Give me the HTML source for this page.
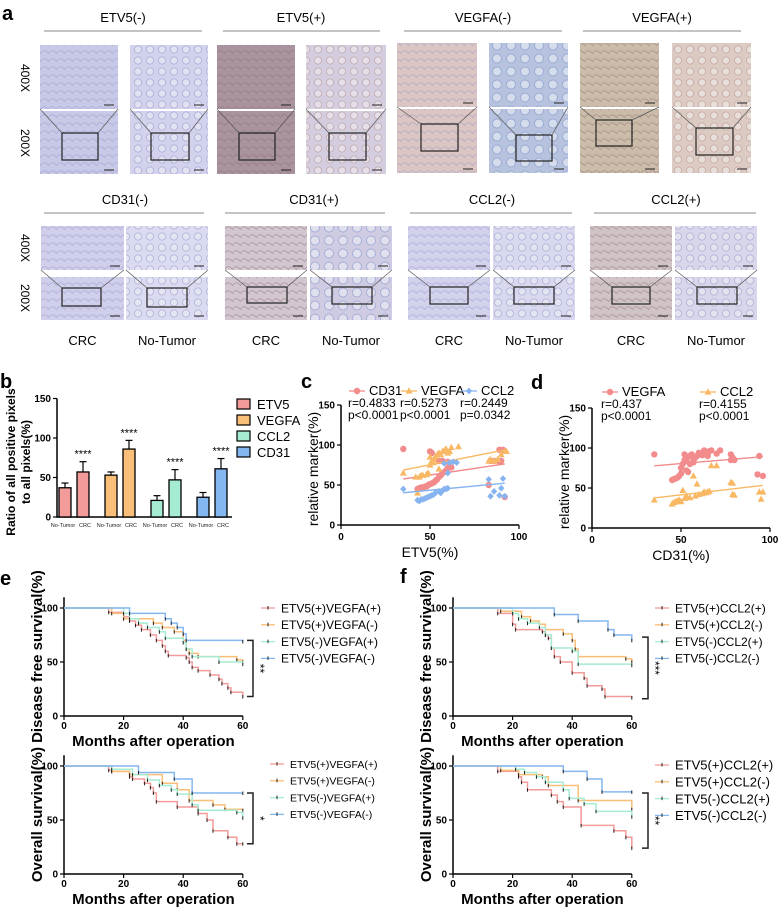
<!DOCTYPE html>
<html><head><meta charset="utf-8"><style>
html,body{margin:0;padding:0;background:#fff;}
svg{display:block;font-family:"Liberation Sans",Arial,sans-serif;}
</style></head><body>
<svg id="fig" width="778" height="909" viewBox="0 0 778 909" xmlns="http://www.w3.org/2000/svg">
<defs>
<pattern id="glands" width="12" height="11" patternUnits="userSpaceOnUse"><circle cx="6" cy="5.5" r="3.6" fill="#eef0f6" stroke="#8f90c6" stroke-width="0.8"/></pattern>
<pattern id="glandsB" width="14" height="13" patternUnits="userSpaceOnUse"><circle cx="7" cy="6.5" r="4.5" fill="#eef2f7" stroke="#7e95c8" stroke-width="0.9"/></pattern>
<pattern id="glandsR" width="12" height="11" patternUnits="userSpaceOnUse"><circle cx="6" cy="5.5" r="3.6" fill="#f1eeee" stroke="#b58f8a" stroke-width="0.8"/></pattern>
<pattern id="tissue" width="8" height="8" patternUnits="userSpaceOnUse"><path d="M0 6 Q4 0 8 5" fill="none" stroke="#8d8fc8" stroke-width="0.7"/></pattern>
<pattern id="tissueBr" width="8" height="8" patternUnits="userSpaceOnUse"><path d="M0 6 Q4 0 8 5" fill="none" stroke="#8a6a70" stroke-width="0.8"/></pattern>
</defs>
<g id="panelA"></g>
<g id="panelB"></g>
<g id="panelC"></g>
<g id="panelD"></g>
<g id="panelE"></g>
<g id="panelF"></g>
</svg>
<script>
// ---------- Panel b data ----------
const barGroups = ["ETV5","VEGFA","CCL2","CD31"];
const barNoTumor = [37, 53, 21, 25];
const barCRC = [57, 86, 47, 61];
const errNoTumor = [6, 4, 6, 6];
const errCRC = [13, 11, 13, 13];
const barTicks = [0, 50, 100, 150];

// ---------- Panel c data ----------
const cCD31X = [35,43,44,45,46,47,48,49,50,51,52,53,54,55,56,57,58,59,60,61,62,50,51,55,57,60,83,84,86,89,90,91,89,92];
const cCD31Y = [95,45,46,47,46,48,48,50,51,52,53,55,57,60,62,65,66,68,71,72,72,92,90,80,80,79,50,80,80,79,80,94,94,35];
const cVEGFAX = [35,43,42,44,45,46,48,49,50,51,52,53,54,55,56,57,58,59,60,61,62,66,50,52,55,83,84,86,88,90,92,93];
const cVEGFAY = [65,40,60,60,62,62,63,65,75,80,82,85,88,90,88,92,93,95,90,92,97,98,85,78,70,80,82,80,82,88,92,92];
const cCCL2X = [35,43,44,45,46,47,48,49,50,51,52,53,55,56,57,58,59,60,61,63,65,58,60,83,84,86,89,90,91,92];
const cCCL2Y = [45,31,30,32,32,33,34,35,36,37,38,40,42,40,43,45,45,46,78,79,78,77,65,57,36,42,37,46,58,36];
const scatterTicks = [0, 50, 100, 150];
const scatterXTicks = [0, 50, 100];

// ---------- Panel d data ----------
const dVEGFAX = [35,45,46,47,48,49,50,50,51,52,52,53,54,55,56,57,58,59,60,62,63,64,65,66,67,72,70,78,79,80,78,93,94,96,53,55,57];
const dVEGFAY = [92,60,61,62,63,65,68,75,80,85,92,72,70,90,92,85,88,90,94,91,97,95,90,96,97,97,93,92,88,85,85,67,90,65,85,80,82];
const dCCL2X = [35,45,46,47,48,49,50,51,52,53,55,57,58,60,62,63,64,65,66,67,70,78,79,79,80,94,95,96,59];
const dCCL2Y = [35,30,32,33,34,35,33,47,37,40,38,65,40,42,43,45,44,45,46,78,78,57,56,42,41,45,36,45,55];

// ---------- Panel e/f survival data (step times, survival %) ----------
const kmTicksX = [0, 20, 40, 60];
const kmTicksY = [0, 50, 100];
const eDfsRedT = [15,20,22,24,26,29,31,33,34,35,41,42,43,45,49,52,53,55,56,60];
const eDfsRedS = [96,92,88,84,80,75,70,65,60,56,54,50,45,42,38,34,30,26,22,18];
const eDfsOrT = [16,20,30,33,37,40,41,42,45,58,60];
const eDfsOrS = [95,90,86,82,78,70,62,58,55,52,50];
const eDfsGrT = [20,22,25,28,32,34,40,41,43,52,60];
const eDfsGrS = [95,90,86,82,78,72,68,62,55,50,48];
const eDfsBlT = [22,34,36,38,40,41,60];
const eDfsBlS = [95,90,86,82,76,70,69];

const fDfsRedT = [15,20,21,30,31,32,33,34,36,40,44,45,50,51,60];
const fDfsRedS = [95,85,80,78,75,72,63,55,50,40,35,28,25,18,17];
const fDfsOrT = [16,23,26,29,31,37,40,41,42,58,60];
const fDfsOrS = [97,92,88,85,80,76,70,62,55,53,50];
const fDfsGrT = [20,22,25,29,31,33,40,42,60];
const fDfsGrS = [95,90,86,82,75,63,60,48,47];
const fDfsBlT = [34,42,52,54,60];
const fDfsBlS = [94,88,80,75,70];

const eOsRedT = [15,16,22,23,27,29,30,31,38,45,48,50,55,58,60];
const eOsRedS = [96,95,90,88,84,80,75,67,62,56,50,40,34,28,28];
const eOsOrT = [16,22,33,38,42,50,54,60];
const eOsOrS = [95,92,84,78,68,64,60,59];
const eOsGrT = [16,23,28,32,36,38,43,45,58,60];
const eOsGrS = [97,92,87,82,78,74,64,59,57,52];
const eOsBlT = [25,37,43,60];
const eOsBlS = [94,88,75,75];

const fOsRedT = [15,22,23,25,33,35,37,43,54,58,60];
const fOsRedS = [95,90,85,78,73,67,62,45,40,34,24];
const fOsOrT = [16,22,30,32,42,60];
const fOsOrS = [96,92,90,82,68,60];
const fOsGrT = [21,24,28,31,37,39,44,48,60];
const fOsGrS = [97,94,90,85,78,70,65,58,53];
const fOsBlT = [37,45,50,60];
const fOsBlS = [95,88,76,76];

const NS = "http://www.w3.org/2000/svg";
function mk(parent, tag, attrs, text){
  const el = document.createElementNS(NS, tag);
  for (const k in attrs) el.setAttribute(k, attrs[k]);
  if (text !== undefined) el.textContent = text;
  parent.appendChild(el);
  return el;
}
const RED="#f39a9a", ORANGE="#f9bf78", GREEN="#a6ecd2", BLUE="#84b6f0";

// ================= Panel A =================
const A = document.getElementById('panelA');
let t = mk(A,'text',{x:2,y:20,'font-size':20,'font-weight':'bold'},'a');



const blocks = [
 {title:"ETV5(-)", tx:123, ty:22, lx1:44, lx2:202, ly:31, imgs:[[40,118,"#c8c9e6","tissue",62,98,133,160],[130,208,"#d2d2ec","glands",151,189,133,160]], y4:[45,109], y2:[111,174]},
 {title:"ETV5(+)", tx:301, ty:22, lx1:223, lx2:380, ly:31, imgs:[[217,295,"#a8939f","tissueBr",239,275,133,160],[306,386,"#d4cde0","glandsR",329,366,133,160]], y4:[45,109], y2:[111,174]},
 {title:"VEGFA(-)", tx:483, ty:22, lx1:404, lx2:562, ly:31, imgs:[[397,477,"#dcc6c3","tissue",421,458,124,151],[489,568,"#b7c3de","glandsB",516,552,135,161]], y4:[43,107], y2:[109,173]},
 {title:"VEGFA(+)", tx:662, ty:22, lx1:583, lx2:741, ly:31, imgs:[[580,659,"#cbbcaa","tissueBr",596,632,120,146],[672,751,"#dccbc2","glandsR",696,733,128,155]], y4:[43,107], y2:[109,173]},
 {title:"CD31(-)", tx:125, ty:204, lx1:44, lx2:204, ly:213, imgs:[[41,124,"#cfcfeb","tissue",62,101,288,306],[126,208,"#dadaf0","glands",147,187,288,307]], y4:[226,270], y2:[277,320]},
 {title:"CD31(+)", tx:314, ty:204, lx1:225, lx2:385, ly:213, imgs:[[225,307,"#d2c6d0","tissueBr",247,287,287,303],[310,392,"#cfcbe3","glandsB",332,372,287,304]], y4:[226,270], y2:[277,320]},
 {title:"CCL2(-)", tx:492, ty:204, lx1:410, lx2:572, ly:213, imgs:[[408,490,"#d2d2ec","tissue",430,468,287,304],[493,575,"#d8d8ef","glands",514,554,287,304]], y4:[226,270], y2:[277,320]},
 {title:"CCL2(+)", tx:676, ty:204, lx1:594, lx2:756, ly:213, imgs:[[590,672,"#d0c4c6","tissueBr",612,650,287,304],[675,757,"#d8d6ea","glands",697,737,287,304]], y4:[226,270], y2:[277,320]}
];
blocks.forEach((b,bi)=>{
  const g = mk(A,'g',{});
  
  
  const tt = mk(g,'text',{x:b.tx,y:b.ty,'text-anchor':'middle','font-size':13},b.title);
  
  
  const ln = mk(g,'line',{x1:b.lx1,x2:b.lx2,y1:b.ly,y2:b.ly,stroke:'#888','stroke-width':1});
  
  
  b.imgs.forEach((im,ii)=>{
    const [x1,x2,col,pat,bx1,bx2,by1,by2]=im;
    for (const [yy,lbl] of [[b.y4,'400x'],[b.y2,'200x']]){
      const r = mk(g,'rect',{x:x1,y:yy[0],width:x2-x1,height:yy[1]-yy[0],fill:col});
      
      
      mk(g,'rect',{x:x1,y:yy[0],width:x2-x1,height:yy[1]-yy[0],fill:'url(#'+pat+')',opacity:0.55});
      mk(g,'line',{x1:x2-14,x2:x2-4,y1:yy[1]-4,y2:yy[1]-4,stroke:'#222','stroke-width':1});
    }
    const bx = mk(g,'rect',{x:bx1,y:by1,width:bx2-bx1,height:by2-by1,fill:'none',stroke:'#222','stroke-width':1.2});
    
    
    mk(g,'line',{x1:x1,y1:b.y4[1],x2:bx1,y2:by1,stroke:'#555','stroke-width':0.7});
    mk(g,'line',{x1:x2,y1:b.y4[1],x2:bx2,y2:by1,stroke:'#555','stroke-width':0.7});
    if (bi>=4){
      const cx=(x1+x2)/2;
      const lab = mk(A,'text',{x:cx,y:345,'text-anchor':'middle','font-size':13},ii===0?'CRC':'No-Tumor');
      
      
    }
  });
});
[[78,'400X'],[143,'200X'],[248,'400X'],[298,'200X']].forEach(([y,s])=>{
  const l = mk(A,'text',{x:0,y:0,'text-anchor':'middle','font-size':12,transform:`translate(21,${y}) rotate(90)`},s);
  
  
});

// ================= Panel B =================
const B = document.getElementById('panelB');
t = mk(B,'text',{x:0,y:388,'font-size':20,'font-weight':'bold'},'b');


const bY = v => 517 - v*0.79;
const bGroupX = i => 59 + i*46;
let ax = mk(B,'path',{d:`M57 ${bY(150)} V517 H232`,fill:'none',stroke:'#000','stroke-width':1.5});


barTicks.forEach(v=>{
  mk(B,'line',{x1:53,x2:57,y1:bY(v),y2:bY(v),stroke:'#000','stroke-width':1.2});
  const tl = mk(B,'text',{x:51,y:bY(v)+3.5,'text-anchor':'end','font-size':10,'font-weight':'bold'},String(v));
  
  
});
const colsB=[RED,ORANGE,GREEN,BLUE];
barGroups.forEach((gname,i)=>{
  [[barNoTumor[i],errNoTumor[i],0,'No-Tumor',-2],[barCRC[i],errCRC[i],18,'CRC',2]].forEach(([v,e,off,lbl,dx])=>{
    const x = bGroupX(i)+off;
    mk(B,'line',{x1:x+6,x2:x+6,y1:bY(v),y2:bY(v+e),stroke:'#000','stroke-width':1.2});
    mk(B,'line',{x1:x+2.5,x2:x+9.5,y1:bY(v+e),y2:bY(v+e),stroke:'#000','stroke-width':1.2});
    const r = mk(B,'rect',{x:x,y:bY(v),width:12,height:517-bY(v),fill:colsB[i],stroke:'#000','stroke-width':1.3});
    
    
    const xl = mk(B,'text',{x:x+6+dx,y:527,'text-anchor':'middle','font-size':5.5,fill:'#222'},lbl);
    
    
    if (off){
      const st = mk(B,'text',{x:x+6,y:bY(v+e)-4,'text-anchor':'middle','font-size':11},'****');
      
      
    }
  });
  const ly = 405 + i*16;
  const sw = mk(B,'rect',{x:237,y:ly-6,width:13,height:10,fill:colsB[i],stroke:'#000','stroke-width':1.2});
  
  
  const lt = mk(B,'text',{x:257,y:ly+4,'font-size':13},gname);
  
  
});
let yt = mk(B,'text',{'text-anchor':'middle','font-size':12,'font-weight':'bold',transform:'translate(15,462) rotate(-90)'},'Ratio of all positive pixels');


yt = mk(B,'text',{'text-anchor':'middle','font-size':12,'font-weight':'bold',transform:'translate(30,462) rotate(-90)'},'to all pixels(%)');



// ================= Scatter helper =================
function marker(g,type,x,y,col){
  let m;
  if (type==='circle') m = mk(g,'circle',{cx:x,cy:y,r:3.2,fill:col});
  else if (type==='tri') m = mk(g,'path',{d:`M${x} ${y-3.7} L${x+3.5} ${y+2.6} L${x-3.5} ${y+2.6}Z`,fill:col});
  else m = mk(g,'path',{d:`M${x} ${y-3.4} L${x+3.2} ${y} L${x} ${y+3.4} L${x-3.2} ${y}Z`,fill:col});
  return m;
}
function fitLine(xs,ys){
  const n=xs.length; let sx=0,sy=0,sxx=0,sxy=0;
  for(let i=0;i<n;i++){sx+=xs[i];sy+=ys[i];sxx+=xs[i]*xs[i];sxy+=xs[i]*ys[i];}
  const b=(n*sxy-sx*sy)/(n*sxx-sx*sx); const a=(sy-b*sx)/n;
  return [a,b,Math.min(...xs),Math.max(...xs)];
}
function scatterPanel(G,ox,oy,series,xTitle,yTitleX){
  const X = v => ox + v*1.78, Y = v => oy - v*0.8;
  const axp = mk(G,'path',{d:`M${ox} ${Y(150)} V${oy} H${X(100)}`,fill:'none',stroke:'#000','stroke-width':1.5});
  
  
  scatterTicks.forEach(v=>{
    mk(G,'line',{x1:ox-4,x2:ox,y1:Y(v),y2:Y(v),stroke:'#000','stroke-width':1.2});
    const tl = mk(G,'text',{x:ox-6,y:Y(v)+3.5,'text-anchor':'end','font-size':10,'font-weight':'bold'},String(v));
    
    
  });
  scatterXTicks.forEach(v=>{
    mk(G,'line',{x1:X(v),x2:X(v),y1:oy,y2:oy+4,stroke:'#000','stroke-width':1.2});
    const tl = mk(G,'text',{x:X(v),y:oy+15,'text-anchor':'middle','font-size':10,'font-weight':'bold'},String(v));
    
    
  });
  const xt = mk(G,'text',{x:X(50),y:oy+32,'text-anchor':'middle','font-size':14},xTitle);
  
  
  const yt2 = mk(G,'text',{'text-anchor':'middle','font-size':14,transform:`translate(${yTitleX},${Y(70)}) rotate(-90)`},'relative marker(%)');
  
  
  series.forEach(s=>{
    const [a,b,mn,mx]=fitLine(s.xs,s.ys);
    const fl = mk(G,'line',{x1:X(mn),y1:Y(a+b*mn),x2:X(mx),y2:Y(a+b*mx),stroke:s.col,'stroke-width':1.4});
    
    
    s.xs.forEach((xv,i)=>{
      const m = marker(G,s.type,X(xv),Y(s.ys[i]),s.col);
      
      
    });
    const lg = mk(G,'g',{});
    
    
    mk(lg,'line',{x1:s.lx-8,x2:s.lx+8,y1:s.ly-4,y2:s.ly-4,stroke:s.col,'stroke-width':1.3});
    marker(lg,s.type,s.lx,s.ly-4,s.col);
    mk(lg,'text',{x:s.lx+12,y:s.ly,'font-size':13},s.name);
    mk(lg,'text',{x:s.lx-9,y:s.ly+12,'font-size':12},s.r);
    mk(lg,'text',{x:s.lx-9,y:s.ly+24,'font-size':12},s.p);
  });
}
// ================= Panel C =================
const C = document.getElementById('panelC');
t = mk(C,'text',{x:301,y:388,'font-size':20,'font-weight':'bold'},'c');


scatterPanel(C,341,525,[
 {name:'CD31',xs:cCD31X,ys:cCD31Y,col:'#f28c8c',type:'circle',lx:357,ly:395,r:'r=0.4833',p:'p<0.0001'},
 {name:'VEGFA',xs:cVEGFAX,ys:cVEGFAY,col:'#f9b864',type:'tri',lx:409,ly:395,r:'r=0.5273',p:'p<0.0001'},
 {name:'CCL2',xs:cCCL2X,ys:cCCL2Y,col:'#86b4f0',type:'dia',lx:469,ly:395,r:'r=0.2449',p:'p=0.0342'}
],'ETV5(%)',318);
// ================= Panel D =================
const D = document.getElementById('panelD');
t = mk(D,'text',{x:531,y:389,'font-size':20,'font-weight':'bold'},'d');


scatterPanel(D,592,528,[
 {name:'VEGFA',xs:dVEGFAX,ys:dVEGFAY,col:'#f28c8c',type:'circle',lx:610,ly:396,r:'r=0.437',p:'p<0.0001'},
 {name:'CCL2',xs:dCCL2X,ys:dCCL2Y,col:'#f9b864',type:'tri',lx:708,ly:396,r:'r=0.4155',p:'p<0.0001'}
],'CD31(%)',569);

// ================= KM helper =================
function kmPanel(G,ox,oy,curves,names,yTitle,legX,legY,legFs,brk,star){
  const X = v => ox + v*2.98, Y = v => oy - v*1.08;
  const axp = mk(G,'path',{d:`M${ox} ${Y(110)} V${oy} H${X(60)}`,fill:'none',stroke:'#000','stroke-width':1.5});
  
  
  kmTicksY.forEach(v=>{
    mk(G,'line',{x1:ox-4,x2:ox,y1:Y(v),y2:Y(v),stroke:'#000','stroke-width':1.2});
    const tl = mk(G,'text',{x:ox-6,y:Y(v)+3.5,'text-anchor':'end','font-size':10,'font-weight':'bold'},String(v));
    
    
  });
  kmTicksX.forEach(v=>{
    mk(G,'line',{x1:X(v),x2:X(v),y1:oy,y2:oy+4,stroke:'#000','stroke-width':1.2});
    const tl = mk(G,'text',{x:X(v),y:oy+13,'text-anchor':'middle','font-size':10,'font-weight':'bold'},String(v));
    
    
  });
  const xt = mk(G,'text',{x:X(30),y:oy+30,'text-anchor':'middle','font-size':15,'font-weight':'bold'},'Months after operation');
  
  
  const ytt = mk(G,'text',{'text-anchor':'middle','font-size':15,'font-weight':'bold',transform:`translate(${ox-22},${Y(55)}) rotate(-90)`},yTitle);
  
  
  const cols=[RED,ORANGE,GREEN,BLUE];
  curves.forEach((c,ci)=>{
    const [ts,ss]=c;
    let d=`M${X(0)} ${Y(100)}`;
    ts.forEach((tv,i)=>{ d+=` H${X(tv)} V${Y(ss[i])}`; });
    d+=` H${X(60)}`;
    const p = mk(G,'path',{d:d,fill:'none',stroke:cols[ci],'stroke-width':1.5});
    
    
    ts.forEach((tv,i)=>{
      const tk = mk(G,'line',{x1:X(tv),x2:X(tv),y1:Y(ss[i])-1.5,y2:Y(ss[i])+2,stroke:'#222','stroke-width':1});
      
      
    });
    const ly = legY + ci*16.8;
    const lg = mk(G,'g',{});
    
    
    mk(lg,'line',{x1:legX,x2:legX+14,y1:ly,y2:ly,stroke:cols[ci],'stroke-width':1.3});
    mk(lg,'line',{x1:legX+7,x2:legX+7,y1:ly-2,y2:ly+1.5,stroke:'#222','stroke-width':1});
    mk(lg,'text',{x:legX+20,y:ly+legFs*0.36,'font-size':legFs},names[ci]);
  });
  const bk = mk(G,'path',{d:`M${brk[0]-6} ${Y(brk[1])} H${brk[0]} V${Y(brk[2])} H${brk[0]-6}`,fill:'none',stroke:'#222','stroke-width':1.5});
  
  
  const st = mk(G,'text',{'text-anchor':'middle','font-size':12,transform:`translate(${brk[0]+3},${Y((brk[1]+brk[2])/2)}) rotate(90)`},star);
  
  
}
// ================= Panel E =================
const E = document.getElementById('panelE');
t = mk(E,'text',{x:0,y:585,'font-size':20,'font-weight':'bold'},'e');


const eNames=['ETV5(+)VEGFA(+)','ETV5(+)VEGFA(-)','ETV5(-)VEGFA(+)','ETV5(-)VEGFA(-)'];
kmPanel(E,64,716,[[eDfsRedT,eDfsRedS],[eDfsOrT,eDfsOrS],[eDfsGrT,eDfsGrS],[eDfsBlT,eDfsBlS]],eNames,'Disease free survival(%)',261,608,12,[253,70,18],'**');
kmPanel(E,64,874,[[eOsRedT,eOsRedS],[eOsOrT,eOsOrS],[eOsGrT,eOsGrS],[eOsBlT,eOsBlS]],eNames,'Overall survival(%)',270,764,10.5,[253,75,28],'*');
// ================= Panel F =================
const F = document.getElementById('panelF');
t = mk(F,'text',{x:400,y:583,'font-size':20,'font-weight':'bold'},'f');


const fNames=['ETV5(+)CCL2(+)','ETV5(+)CCL2(-)','ETV5(-)CCL2(+)','ETV5(-)CCL2(-)'];
kmPanel(F,453,716,[[fDfsRedT,fDfsRedS],[fDfsOrT,fDfsOrS],[fDfsGrT,fDfsGrS],[fDfsBlT,fDfsBlS]],fNames,'Disease free survival(%)',655,608,12,[648,73,16],'***');
kmPanel(F,453,874,[[fOsRedT,fOsRedS],[fOsOrT,fOsOrS],[fOsGrT,fOsGrS],[fOsBlT,fOsBlS]],fNames,'Overall survival(%)',655,765,13,[648,75,24],'**');
</script>
</body></html>
